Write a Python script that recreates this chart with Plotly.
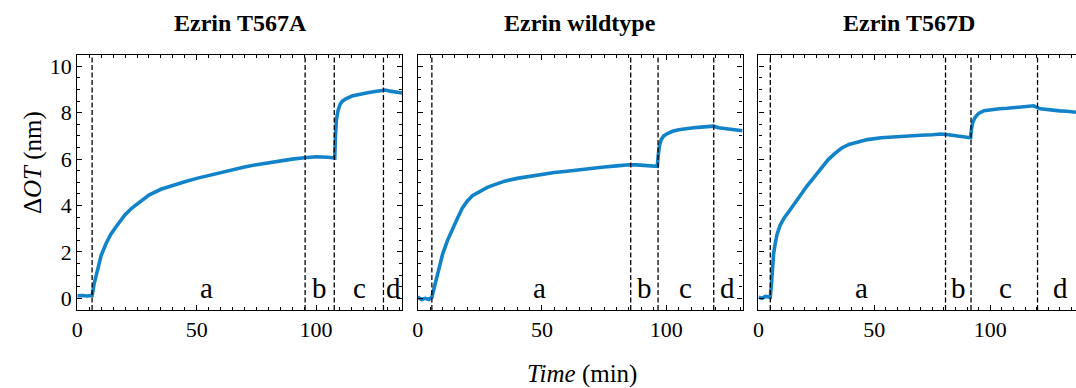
import plotly.graph_objects as go

# ---------------- data ----------------
titles = ["Ezrin T567A", "Ezrin wildtype", "Ezrin T567D"]

t1 = [0, 2, 4, 6.2, 7, 8, 9, 10, 12, 14, 16, 18, 20, 23, 26, 30, 35, 40, 45, 50,
      55, 60, 65, 70, 75, 80, 85, 90, 95, 100, 105, 107.8, 108.1, 108.5, 109.2,
      110, 111, 112.5, 115, 118, 121, 124, 127, 129, 131, 133.5, 136]
v1 = [0.1, 0.12, 0.1, 0.12, 0.6, 1.05, 1.5, 1.85, 2.35, 2.75, 3.05, 3.35, 3.6, 3.9,
      4.15, 4.45, 4.7, 4.88, 5.02, 5.17, 5.3, 5.43, 5.55, 5.66, 5.76, 5.85, 5.93,
      6.0, 6.06, 6.1, 6.08, 6.05, 7.0, 7.7, 8.1, 8.35, 8.5, 8.6, 8.72, 8.8, 8.85,
      8.9, 8.95, 8.98, 8.93, 8.88, 8.85]

t2 = [0, 1.5, 3, 4.5, 5.7, 6.5, 7.5, 8.5, 10, 12, 14, 16, 18, 20, 22, 25, 28, 31,
      35, 40, 45, 50, 55, 60, 65, 70, 75, 80, 85, 88, 91, 94, 96.4, 96.8, 97.3, 98,
      99, 100.5, 102.5, 105, 108, 111, 114, 117, 119, 121, 124, 127, 130.7]
v2 = [0.05, -0.05, 0.0, -0.05, 0.05, 0.4, 0.85, 1.3, 1.9, 2.5, 3.0, 3.45, 3.9, 4.2,
      4.42, 4.62, 4.78, 4.9, 5.05, 5.17, 5.26, 5.34, 5.42, 5.48, 5.55, 5.6, 5.66,
      5.71, 5.76, 5.75, 5.72, 5.7, 5.69, 6.2, 6.6, 6.85, 7.0, 7.1, 7.2, 7.27, 7.32,
      7.35, 7.38, 7.4, 7.42, 7.35, 7.3, 7.27, 7.22]

t3 = [0, 1.5, 3, 5.1, 5.6, 6, 6.5, 7.1, 8, 9.3, 11, 12.9, 15, 18.6, 21, 24.3, 27,
      30, 33, 35.8, 39, 42.9, 47, 52.9, 58, 64.4, 70, 75, 78.7, 82, 86, 89, 91.5,
      91.9, 92.5, 93.5, 95, 97.3, 100, 104, 107.3, 111, 115, 118.7, 121.6, 125,
      130, 133, 137]
v3 = [0.05, 0.0, 0.08, 0.05, 0.6, 1.4, 1.9, 2.3, 2.75, 3.14, 3.45, 3.71, 4.0, 4.56,
      4.85, 5.26, 5.6, 5.97, 6.25, 6.47, 6.63, 6.75, 6.84, 6.92, 6.96, 6.99, 7.03,
      7.05, 7.08, 7.05, 7.0, 6.97, 6.92, 7.3, 7.6, 7.8, 7.97, 8.09, 8.13, 8.17,
      8.19, 8.22, 8.26, 8.3, 8.17, 8.12, 8.08, 8.06, 8.02]

# phase boundaries (min)
bounds1 = [6.2, 95.4, 107.6, 128.2]
bounds2 = [5.7, 85.7, 96.7, 119.1]
bounds3 = [5.1, 80.7, 91.7, 120.4]

phase_letters = ["a", "b", "c", "d"]
letter_x1 = [54, 101.5, 118, 132.3]
letter_x2 = [49, 91.4, 107.7, 124.6]
letter_x3 = [44.6, 86.3, 106.6, 130.2]

x_ranges = [[0, 136], [0, 130.7], [0, 137]]
y_range = [-0.5, 10.5]

# ---------------- figure ----------------
W, H = 1076, 388
FONT = "Liberation Serif"
BLUE = "#1283c9"

fig = go.Figure()

series = [(t1, v1), (t2, v2), (t3, v3)]
bounds = [bounds1, bounds2, bounds3]
letters_x = [letter_x1, letter_x2, letter_x3]

# panel pixel domains
x_dom_px = [(71.7, 398.3), (414.0, 740.7), (756.7, 1076.0)]
y_dom_px = (54.0, 310.5)
ydom = [1 - y_dom_px[1] / H, 1 - y_dom_px[0] / H]

for i, (t, v) in enumerate(series):
    sfx = "" if i == 0 else str(i + 1)
    fig.add_trace(go.Scatter(x=t, y=v, mode="lines",
                             line=dict(color=BLUE, width=3.6),
                             xaxis="x" + sfx, yaxis="y" + sfx,
                             showlegend=False, hoverinfo="skip"))
    for b in bounds[i]:
        fig.add_shape(type="line", xref="x" + sfx, yref="y" + sfx + " domain",
                      x0=b, x1=b, y0=0, y1=1,
                      line=dict(color="black", width=1.3, dash="5px,2.5px"))
    for lx, lt in zip(letters_x[i], phase_letters):
        fig.add_annotation(x=lx, y=-0.35, xref="x" + sfx, yref="y" + sfx,
                           text=lt, showarrow=False, yanchor="bottom",
                           font=dict(family=FONT, size=29, color="black"))

    xd = [x_dom_px[i][0] / W, x_dom_px[i][1] / W]
    last = (i == 2)
    fig.update_layout(**{
        "xaxis" + sfx: dict(
            domain=xd, range=x_ranges[i], anchor="y" + sfx,
            showline=True, linecolor="black", linewidth=1.3, mirror="ticks",
            ticks="inside", ticklen=5, tickcolor="black", tickwidth=1,
            dtick=50, tick0=0, showgrid=False, zeroline=False,
            tickfont=dict(family=FONT, size=22, color="black"),
            minor=dict(dtick=5, ticks="inside", ticklen=3, tickcolor="black"),
        ),
        "yaxis" + sfx: dict(
            domain=ydom, range=y_range, anchor="x" + sfx,
            showline=True, linecolor="black", linewidth=1.3,
            mirror=False if last else "ticks",
            ticks="inside", ticklen=5, tickcolor="black", tickwidth=1,
            dtick=2, tick0=0, showgrid=False, zeroline=False,
            showticklabels=(i == 0),
            tickfont=dict(family=FONT, size=22, color="black"),
            minor=dict(dtick=0.5, ticks="inside", ticklen=3, tickcolor="black"),
        ),
    })

# panel titles
title_cx = [236, 577, 908]
for cx, tt in zip(title_cx, titles):
    fig.add_annotation(x=cx / W, y=1 - 22 / H, xref="paper", yref="paper",
                       text="<b>" + tt + "</b>", showarrow=False,
                       xanchor="center", yanchor="middle",
                       font=dict(family=FONT, size=24, color="black"))

# axis titles
fig.add_annotation(x=27 / W, y=1 - 162 / H, xref="paper", yref="paper",
                   text="Δ<i>OT</i> (nm)", showarrow=False, textangle=-90,
                   xanchor="center", yanchor="middle",
                   font=dict(family=FONT, size=25, color="black"))
fig.add_annotation(x=579 / W, y=1 - 375 / H, xref="paper", yref="paper",
                   text="<i>Time</i> (min)", showarrow=False,
                   xanchor="center", yanchor="middle",
                   font=dict(family=FONT, size=25, color="black"))

fig.update_layout(width=W, height=H, margin=dict(l=0, r=0, t=0, b=0),
                  plot_bgcolor="white", paper_bgcolor="white",
                  font=dict(family=FONT, color="black"))

fig.write_html("out.html")
